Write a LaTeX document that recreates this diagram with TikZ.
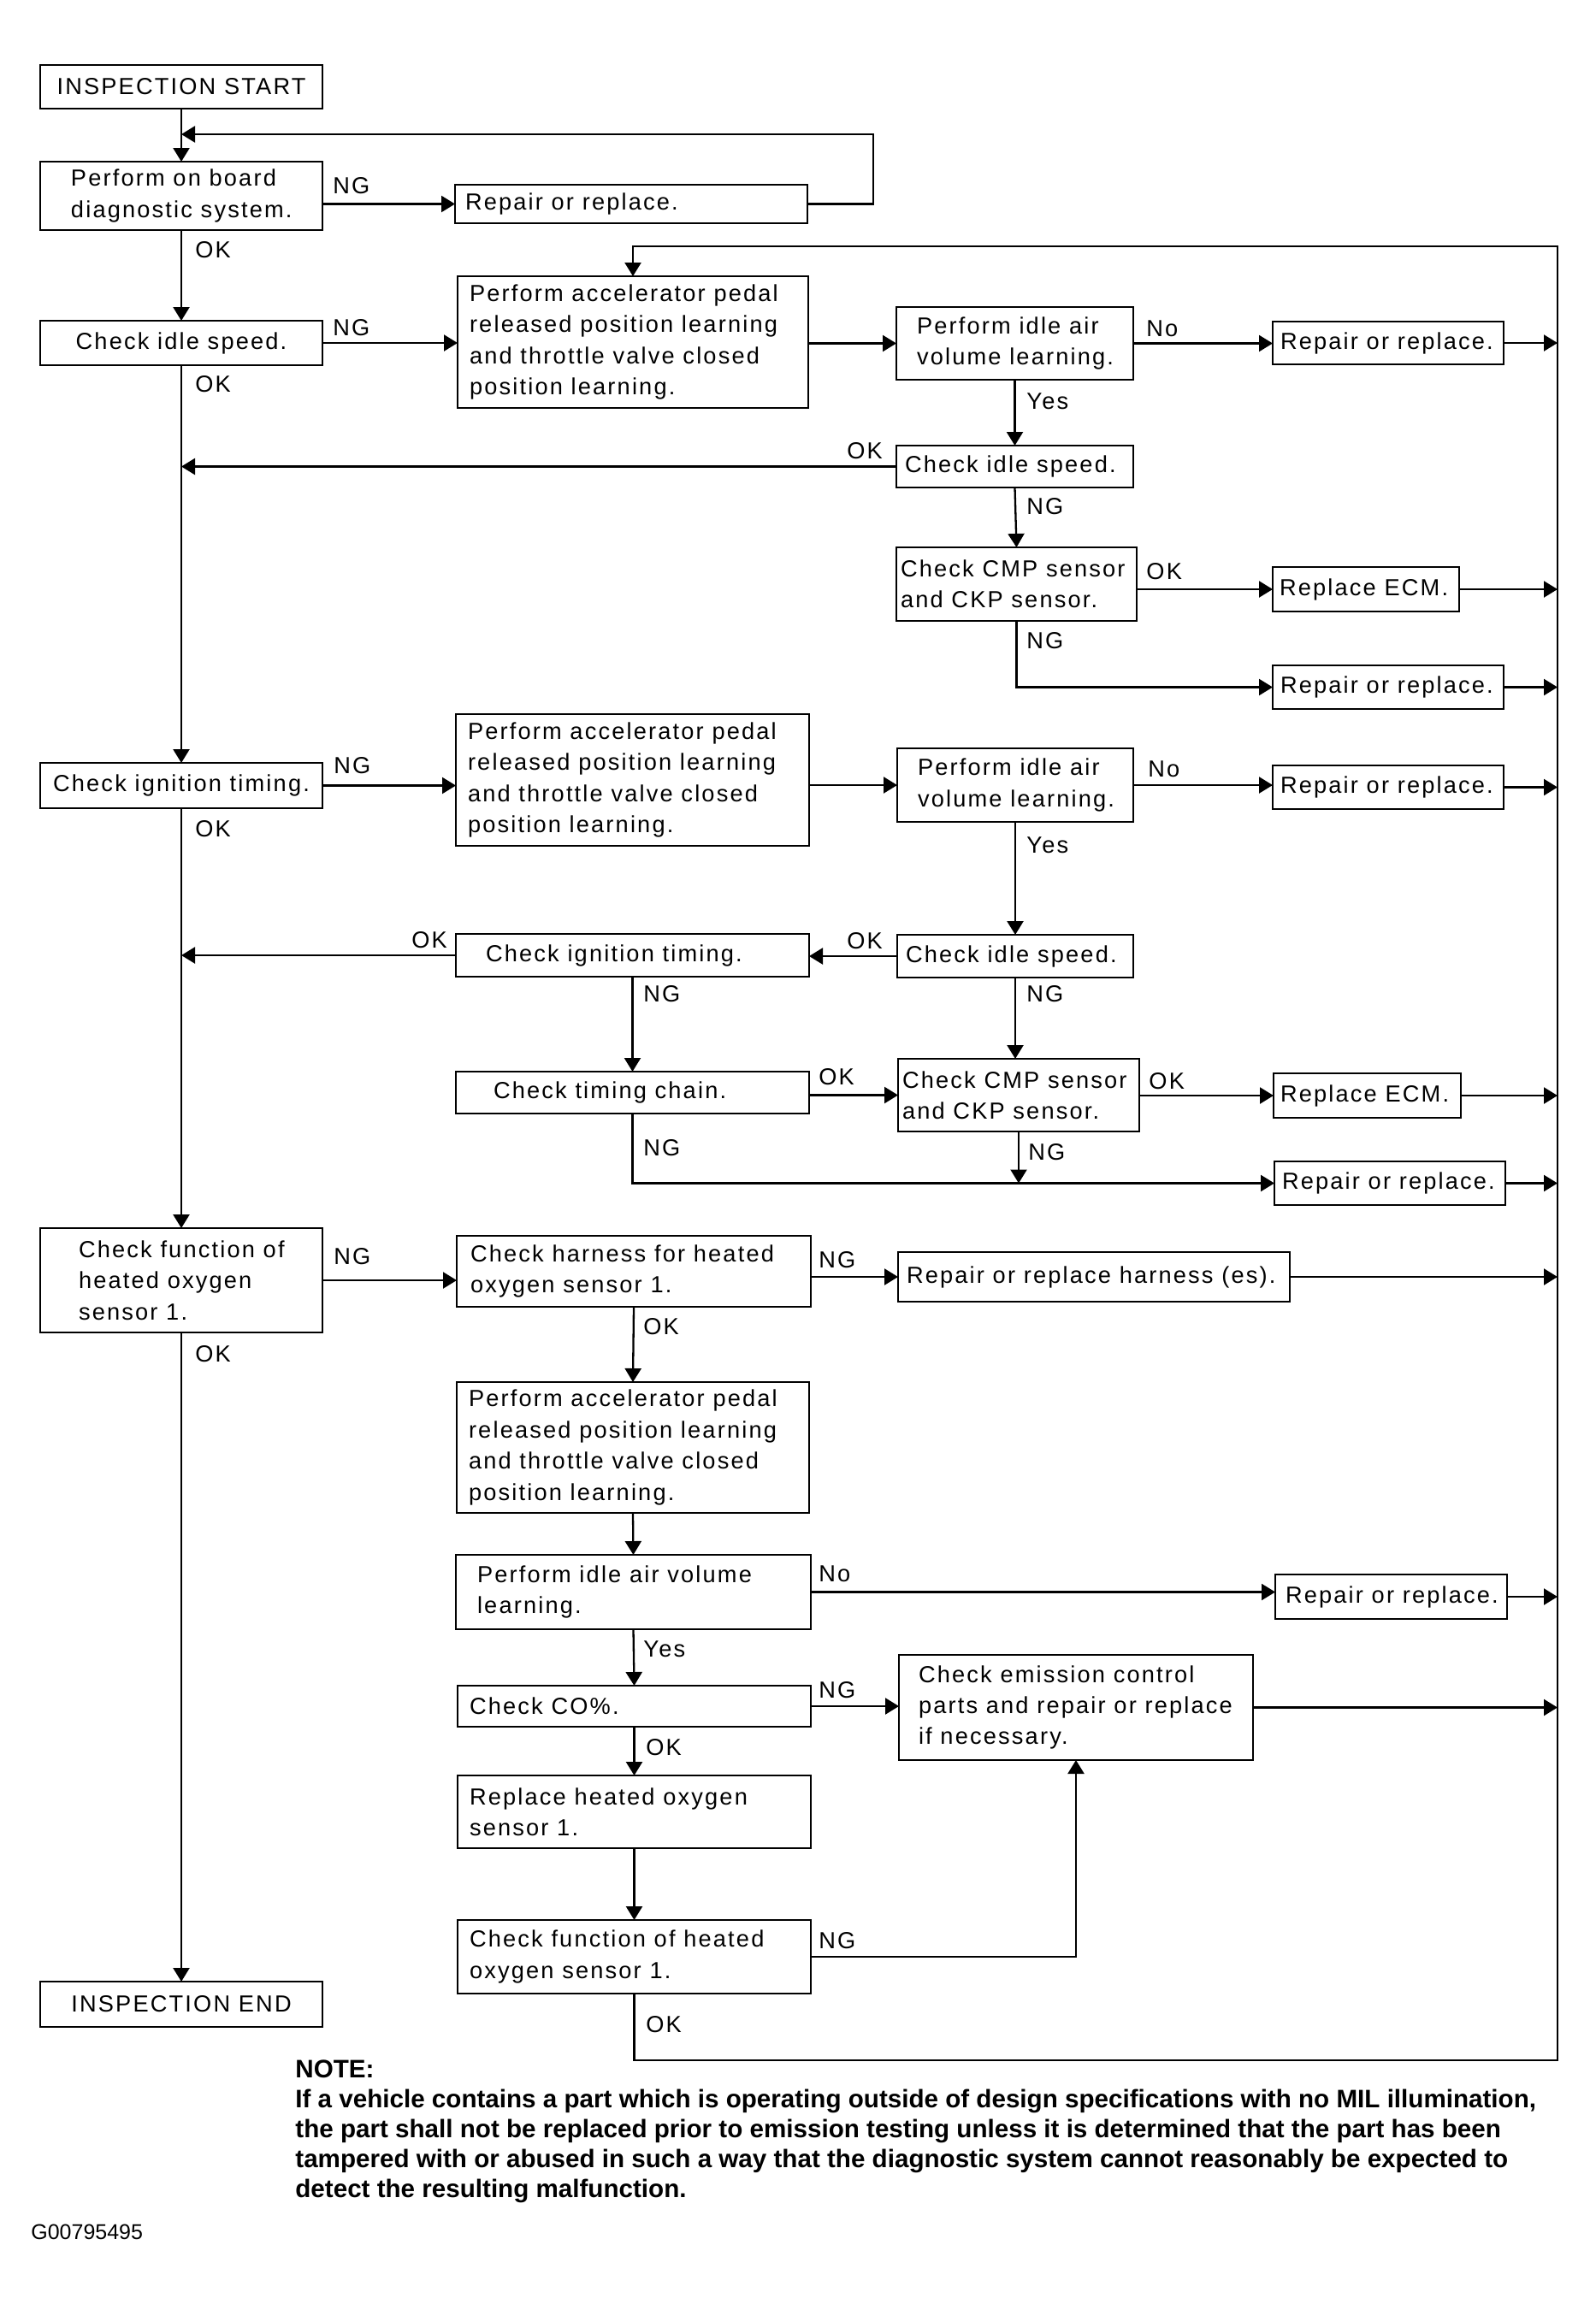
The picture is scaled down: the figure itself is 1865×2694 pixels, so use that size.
\documentclass[tikz,border=0pt]{standalone}
\usepackage{fontspec}
\setmainfont{Liberation Sans}[LetterSpace=8]
\newfontfamily\notefont{Liberation Sans}
\newfontfamily\codefont{Liberation Sans}
\usetikzlibrary{arrows.meta}

\tikzset{
  box/.style={draw, line width=1.25pt, inner sep=0pt, outer sep=0pt},
  txt/.style={inner sep=0pt, outer sep=0pt, align=left, font=\fontsize{13.6}{18.2}\selectfont},
  ctxt/.style={font=\fontsize{13.6}{18.2}\selectfont},
  lbl/.style={inner sep=0pt, anchor=west, font=\fontsize{13.6}{18.2}\selectfont},
  conn/.style={line width=1.1pt},
  arr/.style={line width=1.15pt, -{Triangle[length=8pt,width=9.5pt]}},
}
% left-aligned text box: name, x1, y1, x2, y2, indent, text
\newcommand\bx[7]{%
  \node[box, anchor=north west, minimum width={(#4-#2)*0.5pt}, minimum height={(#5-#3)*0.5pt}] (#1) at (#2,#3) {};
  \node[txt, anchor=west] (#1t) at ([xshift={#6*0.5pt}]#1.west) {#7};
}
% centred text box: name, x1, y1, x2, y2, text
\newcommand\cbx[6]{%
  \node[box, ctxt, anchor=north west, minimum width={(#4-#2)*0.5pt}, minimum height={(#5-#3)*0.5pt}] (#1) at (#2,#3) {#6};
}
\newcommand\lb[4]{\node[lbl] (#1) at (#2,#3) {#4};}

\begin{document}
\begin{tikzpicture}[x=0.5pt, y=-0.5pt]
\fill[white] (0,0) rectangle (1865,2694);
\useasboundingbox (0,0) rectangle (1865,2694);

% ---- boxes ----
\cbx{start}{47}{76}{377}{127}{INSPECTION START}
\bx{obd}{47}{189}{377}{269}{36}{Perform on board\\diagnostic system.}
\bx{rep0}{532}{216}{944}{261}{12}{Repair or replace.}
\cbx{cis1}{47}{375}{377}{427}{Check idle speed.}
\bx{app1}{535}{323}{945}{477}{14}{Perform accelerator pedal\\released position learning\\and throttle valve closed\\position learning.}
\bx{ia1}{1048}{359}{1325}{444}{24}{Perform idle air\\volume learning.}
\bx{r1}{1488}{376}{1758}{426}{9}{Repair or replace.}
\bx{cis2}{1048}{521}{1325}{570}{10}{Check idle speed.}
\bx{cmp1}{1048}{640}{1329}{726}{5}{Check CMP sensor\\and CKP sensor.}
\bx{ecm1}{1488}{663}{1706}{715}{8}{Replace ECM.}
\bx{r2}{1488}{778}{1758}{829}{9}{Repair or replace.}

\cbx{cit1}{47}{892}{377}{945}{Check ignition timing.}
\bx{app2}{533}{835}{946}{989}{14}{Perform accelerator pedal\\released position learning\\and throttle valve closed\\position learning.}
\bx{ia2}{1049}{875}{1325}{961}{24}{Perform idle air\\volume learning.}
\bx{r3}{1488}{895}{1758}{946}{9}{Repair or replace.}
\bx{cis3}{1049}{1093}{1325}{1143}{10}{Check idle speed.}
\bx{cit2}{533}{1092}{946}{1142}{35}{Check ignition timing.}
\bx{tc}{533}{1253}{946}{1302}{44}{Check timing chain.}
\bx{cmp2}{1050}{1238}{1332}{1323}{5}{Check CMP sensor\\and CKP sensor.}
\bx{ecm2}{1489}{1255}{1708}{1307}{8}{Replace ECM.}
\bx{r4}{1490}{1358}{1760}{1409}{9}{Repair or replace.}

\bx{cf1}{47}{1436}{377}{1558}{45}{Check function of\\heated oxygen\\sensor 1.}
\bx{ch}{534}{1445}{948}{1528}{16}{Check harness for heated\\oxygen sensor 1.}
\bx{rh}{1050}{1464}{1508}{1522}{10}{Repair or replace harness (es).}
\bx{app3}{534}{1616}{946}{1769}{14}{Perform accelerator pedal\\released position learning\\and throttle valve closed\\position learning.}
\bx{ia3}{533}{1818}{948}{1905}{25}{Perform idle air volume\\learning.}
\bx{r5}{1491}{1841}{1762}{1893}{12}{Repair or replace.}
\bx{co}{535}{1971}{948}{2019}{14}{Check CO\%.}
\bx{em}{1051}{1935}{1465}{2058}{23}{Check emission control\\parts and repair or replace\\if necessary.}
\bx{rho}{535}{2076}{948}{2161}{14}{Replace heated oxygen\\sensor 1.}
\bx{cf2}{535}{2245}{948}{2331}{14}{Check function of heated\\oxygen sensor 1.}
\cbx{end}{47}{2317}{377}{2370}{INSPECTION END}

% ---- helper coordinates ----
\coordinate (loopin) at (212,157);
\coordinate (bustop) at (1821,288);
\coordinate (busbot) at (1821,2409);

% ---- main column ----
\draw[arr] (start.south) -- (obd.north);
\draw[arr] (obd.south) -- (cis1.north);
\draw[arr] (cis1.south) -- (cit1.north);
\draw[arr] (cit1.south) -- (cf1.north);
\draw[arr] (cf1.south) -- (end.north);

% ---- top loop ----
\draw[arr] (obd.east |- rep0.west) -- (rep0.west);
\draw[arr] (rep0.east) -- ++(77,0) |- (loopin);

% ---- idle speed branch ----
\draw[arr] (cis1.east) -- (cis1.east -| app1.west);
\draw[arr] (app1.east |- ia1.west) -- (ia1.west);
\draw[arr] (ia1.east) -- (ia1.east -| r1.west);
\draw[arr] (r1.east) -- (r1.east -| bustop);
\draw[arr] (ia1.south) -- (cis2.north);
\draw[arr] (cis2.west) -- (cis2.west -| cis1.south);
\draw[arr] (cis2.south) -- (cmp1.north);
\draw[arr] (cmp1.east |- ecm1.west) -- (ecm1.west);
\draw[arr] (ecm1.east) -- (ecm1.east -| bustop);
\draw[arr] (cmp1.south) |- (r2.west);
\draw[arr] (r2.east) -- (r2.east -| bustop);

% ---- ignition timing branch ----
\draw[arr] (cit1.east) -- (cit1.east -| app2.west);
\draw[arr] (app2.east |- ia2.west) -- (ia2.west);
\draw[arr] (ia2.east) -- (ia2.east -| r3.west);
\draw[arr] (r3.east) -- (r3.east -| bustop);
\draw[arr] (ia2.south) -- (cis3.north);
\draw[arr] (cis3.west) -- (cis3.west -| cit2.east);
\draw[arr] (cit2.west) -- (cit2.west -| cit1.south);
\draw[arr] (cit2.south) -- (tc.north);
\draw[arr] (tc.east |- cmp2.west) -- (cmp2.west);
\draw[arr] (cmp2.east |- ecm2.west) -- (ecm2.west);
\draw[arr] (ecm2.east) -- (ecm2.east -| bustop);
\draw[arr] (cis3.south) -- (cis3.south |- cmp2.north);
\draw[arr] (tc.south) |- (r4.west);
\draw[arr] (cmp2.south) -- (cmp2.south |- r4.west);
\draw[arr] (r4.east) -- (r4.east -| bustop);

% ---- oxygen sensor branch ----
\draw[arr] (cf1.east) -- (cf1.east -| ch.west);
\draw[arr] (ch.east |- rh.west) -- (rh.west);
\draw[arr] (rh.east) -- (rh.east -| bustop);
\draw[arr] (ch.south) -- (app3.north);
\draw[arr] (app3.south) -- (ia3.north);
\draw[arr] (ia3.east) -- (ia3.east -| r5.west);
\draw[arr] (r5.east) -- (r5.east -| bustop);
\draw[arr] (ia3.south) -- (co.north);
\draw[arr] (co.east) -- (co.east -| em.west);
\draw[arr] (em.east) -- (em.east -| bustop);
\draw[arr] (co.south) -- (rho.north);
\draw[arr] (rho.south) -- (cf2.north);
\draw[arr] (cf2.east) -| (em.south);

% ---- return bus ----
\draw[arr] (cf2.south) |- (busbot) -- (bustop) -| (app1.north);

% ---- labels ----
\lb{l1}{389}{217}{NG}
\lb{l2}{228}{292}{OK}
\lb{l3}{389}{383}{NG}
\lb{l4}{228}{449}{OK}
\lb{l5}{1340}{384}{No}
\lb{l6}{1200}{469}{Yes}
\lb{l7}{990}{527}{OK}
\lb{l8}{1200}{592}{NG}
\lb{l9}{1340}{668}{OK}
\lb{l10}{1200}{749}{NG}
\lb{l11}{390}{895}{NG}
\lb{l12}{228}{969}{OK}
\lb{l13}{1342}{899}{No}
\lb{l14}{1200}{988}{Yes}
\lb{l15}{990}{1100}{OK}
\lb{l16}{481}{1099}{OK}
\lb{l17}{752}{1162}{NG}
\lb{l18}{1200}{1162}{NG}
\lb{l19}{957}{1259}{OK}
\lb{l20}{1343}{1264}{OK}
\lb{l21}{752}{1342}{NG}
\lb{l22}{1202}{1347}{NG}
\lb{l23}{390}{1469}{NG}
\lb{l24}{228}{1583}{OK}
\lb{l25}{957}{1473}{NG}
\lb{l26}{752}{1551}{OK}
\lb{l27}{957}{1840}{No}
\lb{l28}{752}{1928}{Yes}
\lb{l29}{957}{1976}{NG}
\lb{l30}{755}{2043}{OK}
\lb{l31}{957}{2269}{NG}
\lb{l32}{755}{2367}{OK}

% ---- note ----
\node[anchor=north west, inner sep=0pt, align=left,
      font=\notefont\bfseries\fontsize{14.8}{17.6}\selectfont] (note) at (345,2408)
  {NOTE:\\
   If a vehicle contains a part which is operating outside of design specifications with no MIL illumination,\\
   the part shall not be replaced prior to emission testing unless it is determined that the part has been\\
   tampered with or abused in such a way that the diagnostic system cannot reasonably be expected to\\
   detect the resulting malfunction.};

\node[anchor=west, inner sep=0pt, font=\codefont\fontsize{12.5}{14}\selectfont] (code) at (36,2610) {G00795495};
\end{tikzpicture}
\end{document}
